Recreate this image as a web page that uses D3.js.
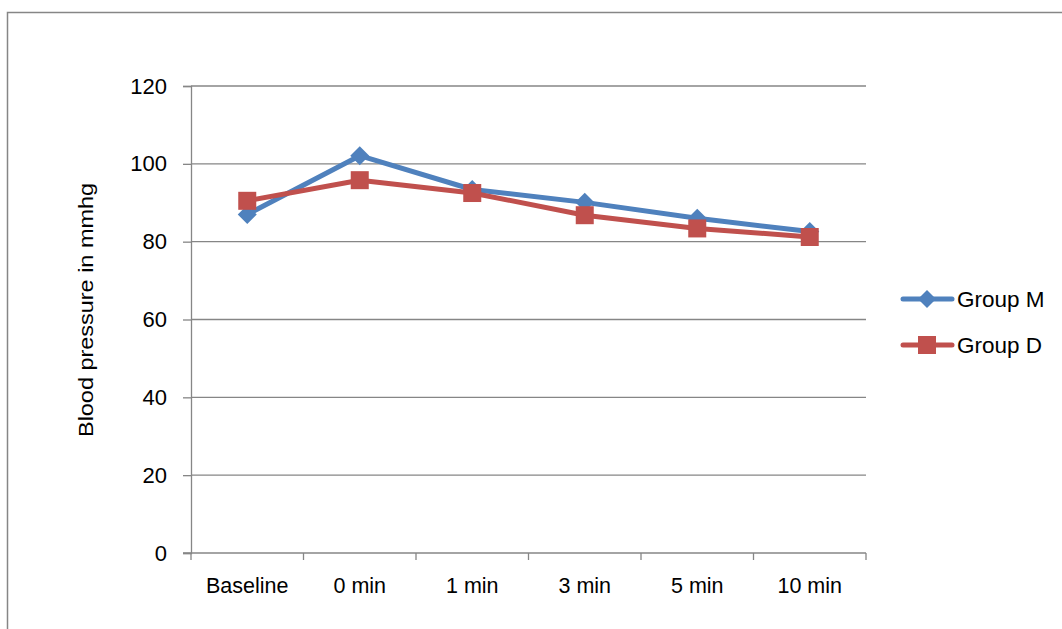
<!DOCTYPE html>
<html>
<head>
<meta charset="utf-8">
<script src="https://cdn.jsdelivr.net/npm/d3@7"></script>
<style>
  html, body { margin: 0; padding: 0; background: #fff; }
  svg { display: block; }
  text { font-family: "Liberation Sans", Arial, sans-serif; fill: #000; }
</style>
</head>
<body>
<svg id="chart" width="1062" height="629"></svg>
<script>
const categories = ["Baseline", "0 min", "1 min", "3 min", "5 min", "10 min"];
const groupM = [87.0, 102.1, 93.4, 90.1, 86.0, 82.6];
const groupD = [90.5, 95.8, 92.5, 86.8, 83.4, 81.2];
const yTicks = [0, 20, 40, 60, 80, 100, 120];
const seriesNames = ["Group M", "Group D"];
const seriesColors = ["#4F81BD", "#C0504D"];
const yTitle = "Blood pressure in mmhg";

const svg = d3.select("#chart");
const grid = "#868686";

// outer border
svg.append("rect").attr("x", 7.5).attr("y", 12.5).attr("width", 1100).attr("height", 700)
  .attr("fill", "none").attr("stroke", grid).attr("stroke-width", 1.5);

const pLeft = 191, pRight = 866, pTop = 86, pBottom = 553;
const x = d3.scaleBand().domain(categories).range([pLeft, pRight]);
const y = d3.scaleLinear().domain([0, 120]).range([pBottom, pTop]);

// gridlines
svg.append("g").selectAll("line").data(yTicks.filter(d => d > 0)).join("line")
  .attr("x1", pLeft).attr("x2", pRight)
  .attr("y1", d => y(d)).attr("y2", d => y(d))
  .attr("stroke", grid).attr("stroke-width", 1.3);

// y axis
const yAxis = svg.append("g").attr("transform", `translate(${pLeft},0)`)
  .call(d3.axisLeft(y).tickValues(yTicks).tickSize(8).tickPadding(16));
yAxis.select(".domain").attr("stroke", grid).attr("stroke-width", 1.3);
yAxis.selectAll(".tick line").attr("stroke", grid).attr("stroke-width", 1.3);
yAxis.selectAll(".tick text").attr("font-size", 22).attr("font-family", "Liberation Sans, Arial, sans-serif").attr("fill", "#000");

// x axis
const boundaries = categories.map(c => x(c)).concat([pRight]);
const xg = svg.append("g");
xg.append("line").attr("x1", pLeft - 8).attr("x2", pRight).attr("y1", pBottom).attr("y2", pBottom)
  .attr("stroke", grid).attr("stroke-width", 1.3);
xg.selectAll("line.tk").data(boundaries).join("line").attr("class", "tk")
  .attr("x1", d => d).attr("x2", d => d).attr("y1", pBottom).attr("y2", pBottom + 7)
  .attr("stroke", grid).attr("stroke-width", 1.3);
xg.selectAll("text").data(categories).join("text")
  .attr("x", d => x(d) + x.bandwidth() / 2).attr("y", pBottom + 40)
  .attr("text-anchor", "middle").attr("font-size", 21.5).text(d => d);

// y title
svg.append("text").attr("transform", "translate(93,310) rotate(-90)")
  .attr("text-anchor", "middle").attr("font-size", 21).attr("textLength", 254)
  .attr("lengthAdjust", "spacingAndGlyphs").text(yTitle);

const line = d3.line().x((d, i) => x(categories[i]) + x.bandwidth() / 2).y(d => y(d));
const data = [groupM, groupD];
const diamond = s => `M0,${-s}L${s},0L0,${s}L${-s},0Z`;

data.forEach((vals, k) => {
  svg.append("path").datum(vals).attr("d", line).attr("fill", "none")
    .attr("stroke", seriesColors[k]).attr("stroke-width", 5).attr("stroke-linejoin", "round");
});
data.forEach((vals, k) => {
  const g = svg.append("g");
  vals.forEach((v, i) => {
    const cx = x(categories[i]) + x.bandwidth() / 2, cy = y(v);
    if (k === 0) {
      g.append("path").attr("d", diamond(9.5)).attr("transform", `translate(${cx},${cy})`).attr("fill", seriesColors[k]);
    } else {
      g.append("rect").attr("x", cx - 9).attr("y", cy - 9).attr("width", 18).attr("height", 18).attr("fill", seriesColors[k]);
    }
  });
});

// legend
const legY = [299, 345];
seriesNames.forEach((name, k) => {
  const g = svg.append("g");
  g.append("line").attr("x1", 903).attr("x2", 952).attr("y1", legY[k]).attr("y2", legY[k])
    .attr("stroke", seriesColors[k]).attr("stroke-width", 5).attr("stroke-linecap", "round");
  if (k === 0) g.append("path").attr("d", diamond(9)).attr("transform", `translate(927,${legY[k]})`).attr("fill", seriesColors[k]);
  else g.append("rect").attr("x", 918).attr("y", legY[k] - 9).attr("width", 18).attr("height", 18).attr("fill", seriesColors[k]);
  g.append("text").attr("x", 957).attr("y", legY[k] + 8).attr("font-size", 22.5).text(name);
});
</script>
</body>
</html>
